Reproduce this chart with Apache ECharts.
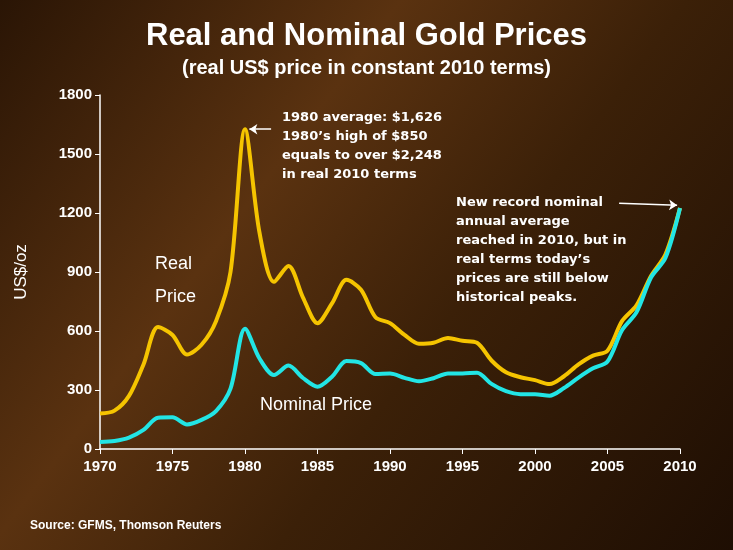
<!DOCTYPE html>
<html>
<head>
<meta charset="utf-8">
<script src="https://cdn.jsdelivr.net/npm/echarts@6/dist/echarts.min.js"></script>
<style>
  html, body { margin: 0; padding: 0; }
  #chart { width: 733px; height: 550px; }
</style>
</head>
<body>
<div id="chart"></div>
<script>
// years and prices (US$/oz)
var years = [];
for (var y = 1970; y <= 2010; y++) years.push(y);

var realPrice = [180, 195, 270, 430, 620, 580, 480, 530, 650, 900,
	1626, 1100, 850, 930, 770, 640, 740, 860, 810, 670,
	640, 580, 535, 540, 565, 550, 540, 450, 390, 365,
	350, 330, 370, 430, 475, 500, 650, 730, 880, 990, 1225];

var nominalPrice = [36, 41, 58, 97, 159, 161, 125, 148, 193, 307,
	612, 460, 376, 424, 361, 317, 368, 447, 437, 381,
	384, 362, 344, 360, 384, 384, 388, 331, 294, 279,
	279, 271, 310, 363, 410, 445, 604, 695, 872, 972, 1225];

function pairs(vals) {
	return years.map(function (yr, i) { return [yr, vals[i]]; });
}

var myChart = echarts.init(document.getElementById('chart'));
var noteFont = { fill: '#fff', fontFamily: 'DejaVu Sans', fontWeight: 'bold', fontSize: 13, lineHeight: 19 };

var option = {
	backgroundColor: {
		type: 'linear', x: 0, y: 0, x2: 1, y2: 1,
		colorStops: [
			{ offset: 0, color: '#2a1505' },
			{ offset: 0.35, color: '#5a3210' },
			{ offset: 0.6, color: '#3b2008' },
			{ offset: 1, color: '#1e0e03' }
		]
	},
	title: {
		text: 'Real and Nominal Gold Prices',
		subtext: '(real US$ price in constant 2010 terms)',
		left: 'center',
		top: 16,
		itemGap: 6,
		textStyle: { color: '#fff', fontFamily: 'Liberation Sans', fontWeight: 'bold', fontSize: 31 },
		subtextStyle: { color: '#fff', fontFamily: 'Liberation Sans', fontWeight: 'bold', fontSize: 20 }
	},
	grid: { left: 100, right: 53, top: 95, bottom: 101 },
	xAxis: {
		type: 'value', min: 1970, max: 2010, interval: 5,
		axisLine: { lineStyle: { color: '#fff', width: 1.5 } },
		axisTick: { show: true, lineStyle: { color: '#fff' } },
		splitLine: { show: false },
		axisLabel: { color: '#fff', fontWeight: 'bold', fontSize: 15, fontFamily: 'Liberation Sans', margin: 10,
			formatter: function (v) { return String(v); } }
	},
	yAxis: {
		type: 'value', min: 0, max: 1800, interval: 300,
		name: 'US$/oz', nameLocation: 'middle', nameGap: 70, nameRotate: 90,
		nameTextStyle: { color: '#fff', fontSize: 17, fontFamily: 'Liberation Sans' },
		axisLine: { show: true, lineStyle: { color: '#fff', width: 1.5 } },
		axisTick: { show: true, lineStyle: { color: '#fff' } },
		splitLine: { show: false },
		axisLabel: { color: '#fff', fontWeight: 'bold', fontSize: 15, fontFamily: 'Liberation Sans',
			formatter: function (v) { return String(v); } }
	},
	series: [
		{
			name: 'Real Price', type: 'line', smooth: 0.3, showSymbol: false,
			data: pairs(realPrice),
			lineStyle: { color: '#f5c400', width: 4 },
			markLine: {
				silent: true, symbol: ['none', 'arrow'], symbolSize: 8,
				label: { show: false },
				lineStyle: { color: '#fff', width: 1.5, type: 'solid' },
				data: [
					[{ coord: [1981.8, 1626] }, { coord: [1980.3, 1626] }],
					[{ coord: [2005.8, 1250] }, { coord: [2009.8, 1240] }]
				]
			}
		},
		{
			name: 'Nominal Price', type: 'line', smooth: 0.3, showSymbol: false,
			data: pairs(nominalPrice),
			lineStyle: { color: '#22e5e5', width: 4 }
		}
	],
	graphic: [
		{ type: 'text', left: 155, top: 255, style: { text: 'Real', fill: '#fff', fontSize: 18, fontFamily: 'Liberation Sans' } },
		{ type: 'text', left: 155, top: 288, style: { text: 'Price', fill: '#fff', fontSize: 18, fontFamily: 'Liberation Sans' } },
		{ type: 'text', left: 260, top: 396, style: { text: 'Nominal Price', fill: '#fff', fontSize: 18, fontFamily: 'Liberation Sans' } },
		{ type: 'text', left: 282, top: 108, style: Object.assign({ text: '1980 average: $1,626\n1980\u2019s high of $850\nequals to over $2,248\nin real 2010 terms' }, noteFont) },
		{ type: 'text', left: 456, top: 193, style: Object.assign({ text: 'New record nominal\nannual average\nreached in 2010, but in\nreal terms today\u2019s\nprices are still below\nhistorical peaks.' }, noteFont) },
		{ type: 'text', left: 30, top: 520, style: { text: 'Source: GFMS, Thomson Reuters', fill: '#fff', fontSize: 12, fontWeight: 'bold', fontFamily: 'Liberation Sans' } }
	]
};
myChart.setOption(option);
</script>
</body>
</html>
